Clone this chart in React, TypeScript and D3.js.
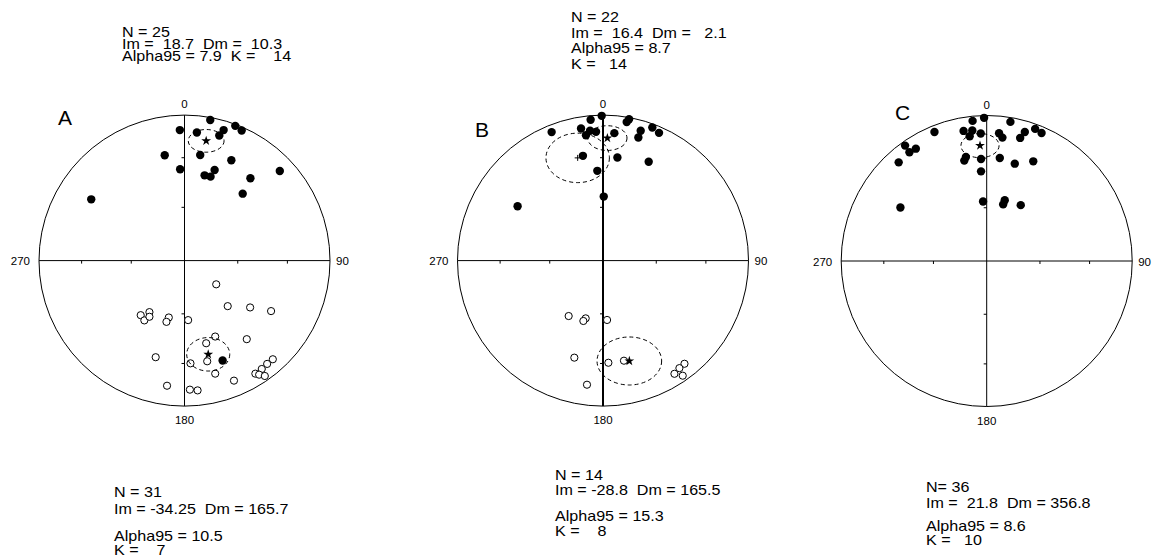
import React from 'react';
import * as d3 from 'd3';

// Projected positions (equal-area, unit radius): [east, north]
const downA = [
  [0.177, 0.966], [-0.032, 0.897], [0.085, 0.88], [0.269, 0.897], [0.349, 0.926],
  [0.393, 0.894], [0.239, 0.86], [-0.136, 0.724], [0.108, 0.726], [0.322, 0.69],
  [-0.03, 0.628], [0.207, 0.623], [0.138, 0.586], [0.179, 0.577], [0.655, 0.616],
  [0.453, 0.566], [0.4, 0.46], [-0.641, 0.421], [0.262, -0.687],
];
const upA = [
  [0.218, -0.163], [0.297, -0.313], [0.451, -0.322], [0.595, -0.347], [-0.301, -0.375],
  [-0.241, -0.354], [-0.276, -0.411], [-0.241, -0.386], [-0.108, -0.391], [-0.124, -0.421],
  [0.025, -0.409], [0.211, -0.522], [0.149, -0.568], [0.428, -0.54], [-0.198, -0.664],
  [0.156, -0.692], [0.041, -0.706], [0.607, -0.678], [0.568, -0.71], [0.531, -0.745],
  [0.487, -0.777], [0.513, -0.784], [0.552, -0.793], [0.211, -0.777], [0.34, -0.825],
  [-0.12, -0.86], [0.037, -0.887], [0.09, -0.892],
];
const downB = [
  [-0.009, 0.995], [-0.085, 0.968], [-0.151, 0.908], [-0.089, 0.892], [-0.048, 0.885],
  [-0.117, 0.862], [-0.353, 0.883], [0.078, 0.876], [0.179, 0.972], [0.163, 0.952],
  [0.259, 0.892], [0.243, 0.846], [0.339, 0.915], [0.385, 0.878], [-0.138, 0.72],
  [0.099, 0.709], [0.314, 0.679], [-0.039, 0.617], [0.005, 0.44], [-0.587, 0.374],
];
const upB = [
  [-0.236, -0.381], [-0.119, -0.397], [-0.135, -0.415], [0.028, -0.408], [-0.197, -0.667],
  [0.037, -0.702], [0.144, -0.688], [0.56, -0.709], [0.525, -0.739], [0.491, -0.778],
  [0.548, -0.791], [-0.11, -0.853],
];
const downC = [
  [-0.018, 0.984], [-0.097, 0.963], [0.163, 0.956], [-0.359, 0.887], [-0.159, 0.894],
  [-0.099, 0.897], [-0.117, 0.857], [-0.041, 0.876], [0.085, 0.878], [0.108, 0.848],
  [0.262, 0.887], [0.23, 0.846], [0.333, 0.908], [0.377, 0.88], [-0.561, 0.793],
  [-0.487, 0.772], [-0.531, 0.747], [-0.605, 0.678], [-0.154, 0.69], [-0.143, 0.715],
  [-0.039, 0.701], [0.09, 0.708], [0.193, 0.669], [0.32, 0.685], [-0.039, 0.616],
  [-0.025, 0.409], [0.124, 0.418], [0.113, 0.389], [0.234, 0.384], [-0.593, 0.368],
];

// mean directions: [east, north, rx, ry, marker]
const meansA = [[0.149, 0.823, 0.123, 0.078, 'star'], [0.163, -0.644, 0.148, 0.115, 'star']];
const meansB = [[0.03, 0.842, 0.135, 0.085, 'star'], [-0.174, 0.706, 0.218, 0.17, 'cross'], [0.181, -0.69, 0.222, 0.165, 'star']];
const meansC = [[-0.046, 0.793, 0.131, 0.083, 'star']];

const topA = ['N = 25', 'Im =  18.7  Dm =  10.3', 'Alpha95 = 7.9  K =    14'];
const topB = ['N = 22', 'Im =  16.4  Dm =   2.1', 'Alpha95 = 8.7', 'K =   14'];
const bottomA = ['N = 31', 'Im = -34.25  Dm = 165.7', 'Alpha95 = 10.5', 'K =    7'];
const bottomB = ['N = 14', 'Im = -28.8  Dm = 165.5', 'Alpha95 = 15.3', 'K =    8'];
const bottomC = ['N= 36', 'Im =  21.8  Dm = 356.8', 'Alpha95 = 8.6', 'K =   10'];

const tickIncs = [30, 60];
const font = '"Liberation Sans", Arial, sans-serif';

const nets = [
  { name: 'A', cx: 184.5, cy: 260.6, down: downA, up: upA, means: meansA, letter: [58, 125], vw: 1 },
  { name: 'B', cx: 603, cy: 260.6, down: downB, up: upB, means: meansB, letter: [475, 137], vw: 2 },
  { name: 'C', cx: 986.7, cy: 261, down: downC, up: [], means: meansC, letter: [895, 120], vw: 1 },
];
const R = 145.5;

const blocks = [
  { lines: topA, x: 122, ys: [37, 49, 61] },
  { lines: topB, x: 571, ys: [22, 37.5, 52.5, 68.5] },
  { lines: bottomA, x: 114, ys: [497, 514, 541, 555] },
  { lines: bottomB, x: 555, ys: [480, 495, 521, 536] },
  { lines: bottomC, x: 926, ys: [492, 507.5, 531, 545] },
];

function Net({ net }) {
  const x = d3.scaleLinear().domain([-1, 1]).range([net.cx - R, net.cx + R]);
  const y = d3.scaleLinear().domain([-1, 1]).range([net.cy + R, net.cy - R]);
  // equal-area radius for a given inclination
  const eq = (inc) => Math.SQRT2 * Math.sin(((90 - inc) / 2) * Math.PI / 180);
  const tickR = tickIncs.map(eq);
  const star = d3.symbol().type(d3.symbolStar).size(30)();
  return (
    <g>
      <circle cx={net.cx} cy={net.cy} r={R} fill="none" stroke="#000" strokeWidth={1} />
      <line x1={x(-1)} x2={x(1)} y1={y(0)} y2={y(0)} stroke="#000" />
      <line x1={x(0)} x2={x(0)} y1={y(1)} y2={y(-1)} stroke="#000" strokeWidth={net.vw} />
      {tickR.flatMap((t) => [t, -t]).map((t, i) => (
        <g key={i}>
          <line x1={x(t)} x2={x(t)} y1={y(0)} y2={y(0) + 3} stroke="#000" />
          <line x1={x(0) - 3} x2={x(0)} y1={y(t)} y2={y(t)} stroke="#000" />
        </g>
      ))}
      <text x={net.cx} y={net.cy - R - 7} textAnchor="middle" fontSize={11.5} fontFamily={font}>0</text>
      <text x={net.cx} y={net.cy + R + 18} textAnchor="middle" fontSize={11.5} fontFamily={font}>180</text>
      <text x={net.cx - R - 9} y={net.cy + 4.5} textAnchor="end" fontSize={11.5} fontFamily={font}>270</text>
      <text x={net.cx + R + 6} y={net.cy + 4.5} textAnchor="start" fontSize={11.5} fontFamily={font}>90</text>
      <text x={net.letter[0]} y={net.letter[1]} fontSize={21} fontFamily={font}>{net.name}</text>
      {net.down.map((d, i) => (
        <circle key={'d' + i} cx={x(d[0])} cy={y(d[1])} r={4.2} fill="#000" />
      ))}
      {net.up.map((d, i) => (
        <circle key={'u' + i} cx={x(d[0])} cy={y(d[1])} r={3.6} fill="#fff" stroke="#000" strokeWidth={1} />
      ))}
      {net.means.map((m, i) => (
        <g key={'m' + i}>
          <ellipse cx={x(m[0])} cy={y(m[1])} rx={m[2] * R} ry={m[3] * R} fill="none" stroke="#000" strokeDasharray="4 3" />
          {m[4] === 'star' ? (
            <path d={star} transform={`translate(${x(m[0])},${y(m[1])})`} fill="#000" />
          ) : (
            <path d={`M${x(m[0]) - 3},${y(m[1])}h6M${x(m[0])},${y(m[1]) - 3}v6`} stroke="#000" />
          )}
        </g>
      ))}
    </g>
  );
}

export default function App() {
  return (
    <svg width={1153} height={557} style={{ position: 'absolute', left: 0, top: 0, background: '#fff' }}>
      {nets.map((n) => <Net key={n.name} net={n} />)}
      {blocks.map((b, i) => (
        <g key={i}>
          {b.lines.map((l, j) => (
            <text
              key={j}
              transform={`translate(${b.x},${b.ys[j]}) scale(1.15,1)`}
              fontSize={14}
              fontFamily={font}
              xmlSpace="preserve"
              style={{ whiteSpace: 'pre' }}
            >
              {l}
            </text>
          ))}
        </g>
      ))}
    </svg>
  );
}
